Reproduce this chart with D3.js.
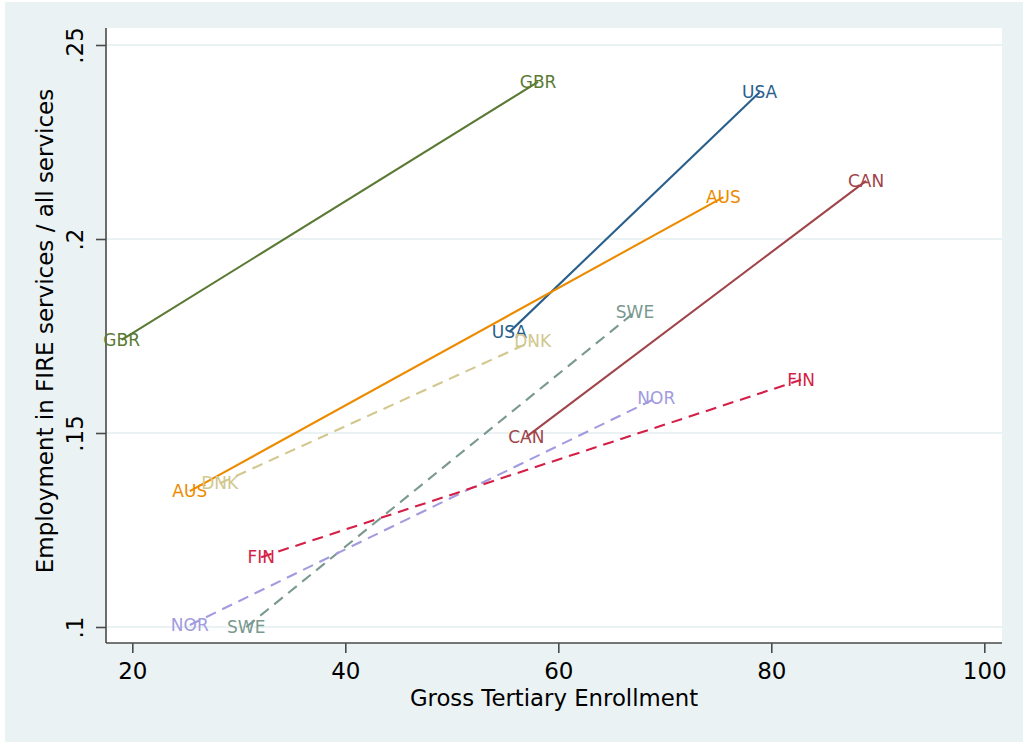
<!DOCTYPE html>
<html>
<head>
<meta charset="utf-8">
<script src="https://cdn.jsdelivr.net/npm/d3@7"></script>
<style>
  html, body { margin: 0; padding: 0; background: #ffffff; }
  svg { display: block; }
  text { font-family: "DejaVu Sans", sans-serif; }
</style>
</head>
<body>
<svg id="chart" width="1023" height="742"></svg>
<script>
// Countries, each drawn as a segment between two observations
const countries = ["GBR", "USA", "AUS", "DNK", "CAN", "SWE", "NOR", "FIN"];
// Gross tertiary enrollment at the start and end observation
const enrollStart = [19.0, 55.4, 25.4, 28.2, 57.0, 30.7, 25.4, 32.1];
const enrollEnd   = [58.1, 78.9, 75.5, 57.6, 88.9, 67.2, 69.2, 82.8];
// FIRE share of service employment at the start and end observation
const fireStart = [0.174, 0.176, 0.135, 0.137, 0.149, 0.100, 0.1005, 0.118];
const fireEnd   = [0.2405, 0.2378, 0.2108, 0.1737, 0.2150, 0.1812, 0.1590, 0.1637];
// Line pattern per country
const dashed = [false, false, false, true, false, true, true, true];
const colors = ["#5a7a34", "#2a5f8c", "#ed8b00", "#d2c88f", "#a0444a", "#7a998f", "#a29be0", "#d41f46"];

const xTicks = [20, 40, 60, 80, 100];
const yTicks = [0.10, 0.15, 0.20, 0.25];
const yTickLabels = [".1", ".15", ".2", ".25"];

const svg = d3.select("#chart");
const W = 1023, H = 742;
const plot = { left: 106, right: 1002, top: 28, bottom: 643 };

// graph region background
svg.append("rect").attr("x", 5).attr("y", 2).attr("width", W - 5).attr("height", H - 2)
  .attr("fill", "#eaf2f3");
// plot region
svg.append("rect").attr("x", plot.left).attr("y", plot.top)
  .attr("width", plot.right - plot.left).attr("height", plot.bottom - plot.top)
  .attr("fill", "#ffffff");

const x = d3.scaleLinear().domain([20, 100]).range([132.3, 984.3]);
const y = d3.scaleLinear().domain([0.10, 0.25]).range([627, 45]);

// horizontal grid lines
svg.append("g").selectAll("line").data(yTicks).join("line")
  .attr("x1", plot.left).attr("x2", plot.right)
  .attr("y1", d => y(d)).attr("y2", d => y(d))
  .attr("stroke", "#eaf2f3").attr("stroke-width", 2);

// axes
const xAxis = d3.axisBottom(x).tickValues(xTicks).tickSize(10).tickPadding(10)
  .tickFormat(d3.format("d"));
const gx = svg.append("g").attr("transform", `translate(0,${plot.bottom})`).call(xAxis);
gx.select(".domain").attr("d", `M${plot.left},0H${plot.right}`);

const yAxis = d3.axisLeft(y).tickValues(yTicks).tickSize(10).tickPadding(0)
  .tickFormat((d, i) => yTickLabels[i]);
const gy = svg.append("g").attr("transform", `translate(${plot.left},0)`).call(yAxis);
gy.select(".domain").attr("d", `M0,${plot.top}V${plot.bottom}`);

[gx, gy].forEach(g => {
  g.selectAll(".domain, .tick line").attr("stroke", "#4a4a4a").attr("stroke-width", 1.6);
  g.selectAll(".tick text").attr("font-family", "DejaVu Sans, sans-serif")
    .attr("font-size", 23).attr("fill", "#000");
});
gy.selectAll(".tick text")
  .attr("x", null).attr("dy", null)
  .attr("text-anchor", "middle")
  .attr("transform", "translate(-23,0) rotate(-90)");

// axis titles
svg.append("text")
  .attr("x", 554).attr("y", 706)
  .attr("text-anchor", "middle").attr("font-size", 22.8).attr("fill", "#000")
  .text("Gross Tertiary Enrollment");
svg.append("text")
  .attr("transform", "translate(53,331) rotate(-90)")
  .attr("text-anchor", "middle").attr("font-size", 23).attr("fill", "#000")
  .text("Employment in FIRE services / all services");

// country segments
const rows = countries.map((c, i) => ({
  c, color: colors[i], dashed: dashed[i],
  x0: enrollStart[i], x1: enrollEnd[i], y0: fireStart[i], y1: fireEnd[i]
}));

const segs = svg.append("g");
segs.selectAll("line").data(rows).join("line")
  .attr("x1", d => x(d.x0)).attr("y1", d => y(d.y0))
  .attr("x2", d => x(d.x1)).attr("y2", d => y(d.y1))
  .attr("stroke", d => d.color).attr("stroke-width", 2.1)
  .attr("stroke-dasharray", d => d.dashed ? "11,7" : null);

// country labels centred on each endpoint
const pts = rows.flatMap(d => [
  { c: d.c, color: d.color, vx: d.x0, vy: d.y0 },
  { c: d.c, color: d.color, vx: d.x1, vy: d.y1 }
]);
svg.append("g").selectAll("text").data(pts).join("text")
  .attr("x", d => x(d.vx)).attr("y", d => y(d.vy))
  .attr("text-anchor", "middle").attr("dominant-baseline", "central")
  .attr("font-size", 17).attr("fill", d => d.color)
  .text(d => d.c);
</script>
</body>
</html>
